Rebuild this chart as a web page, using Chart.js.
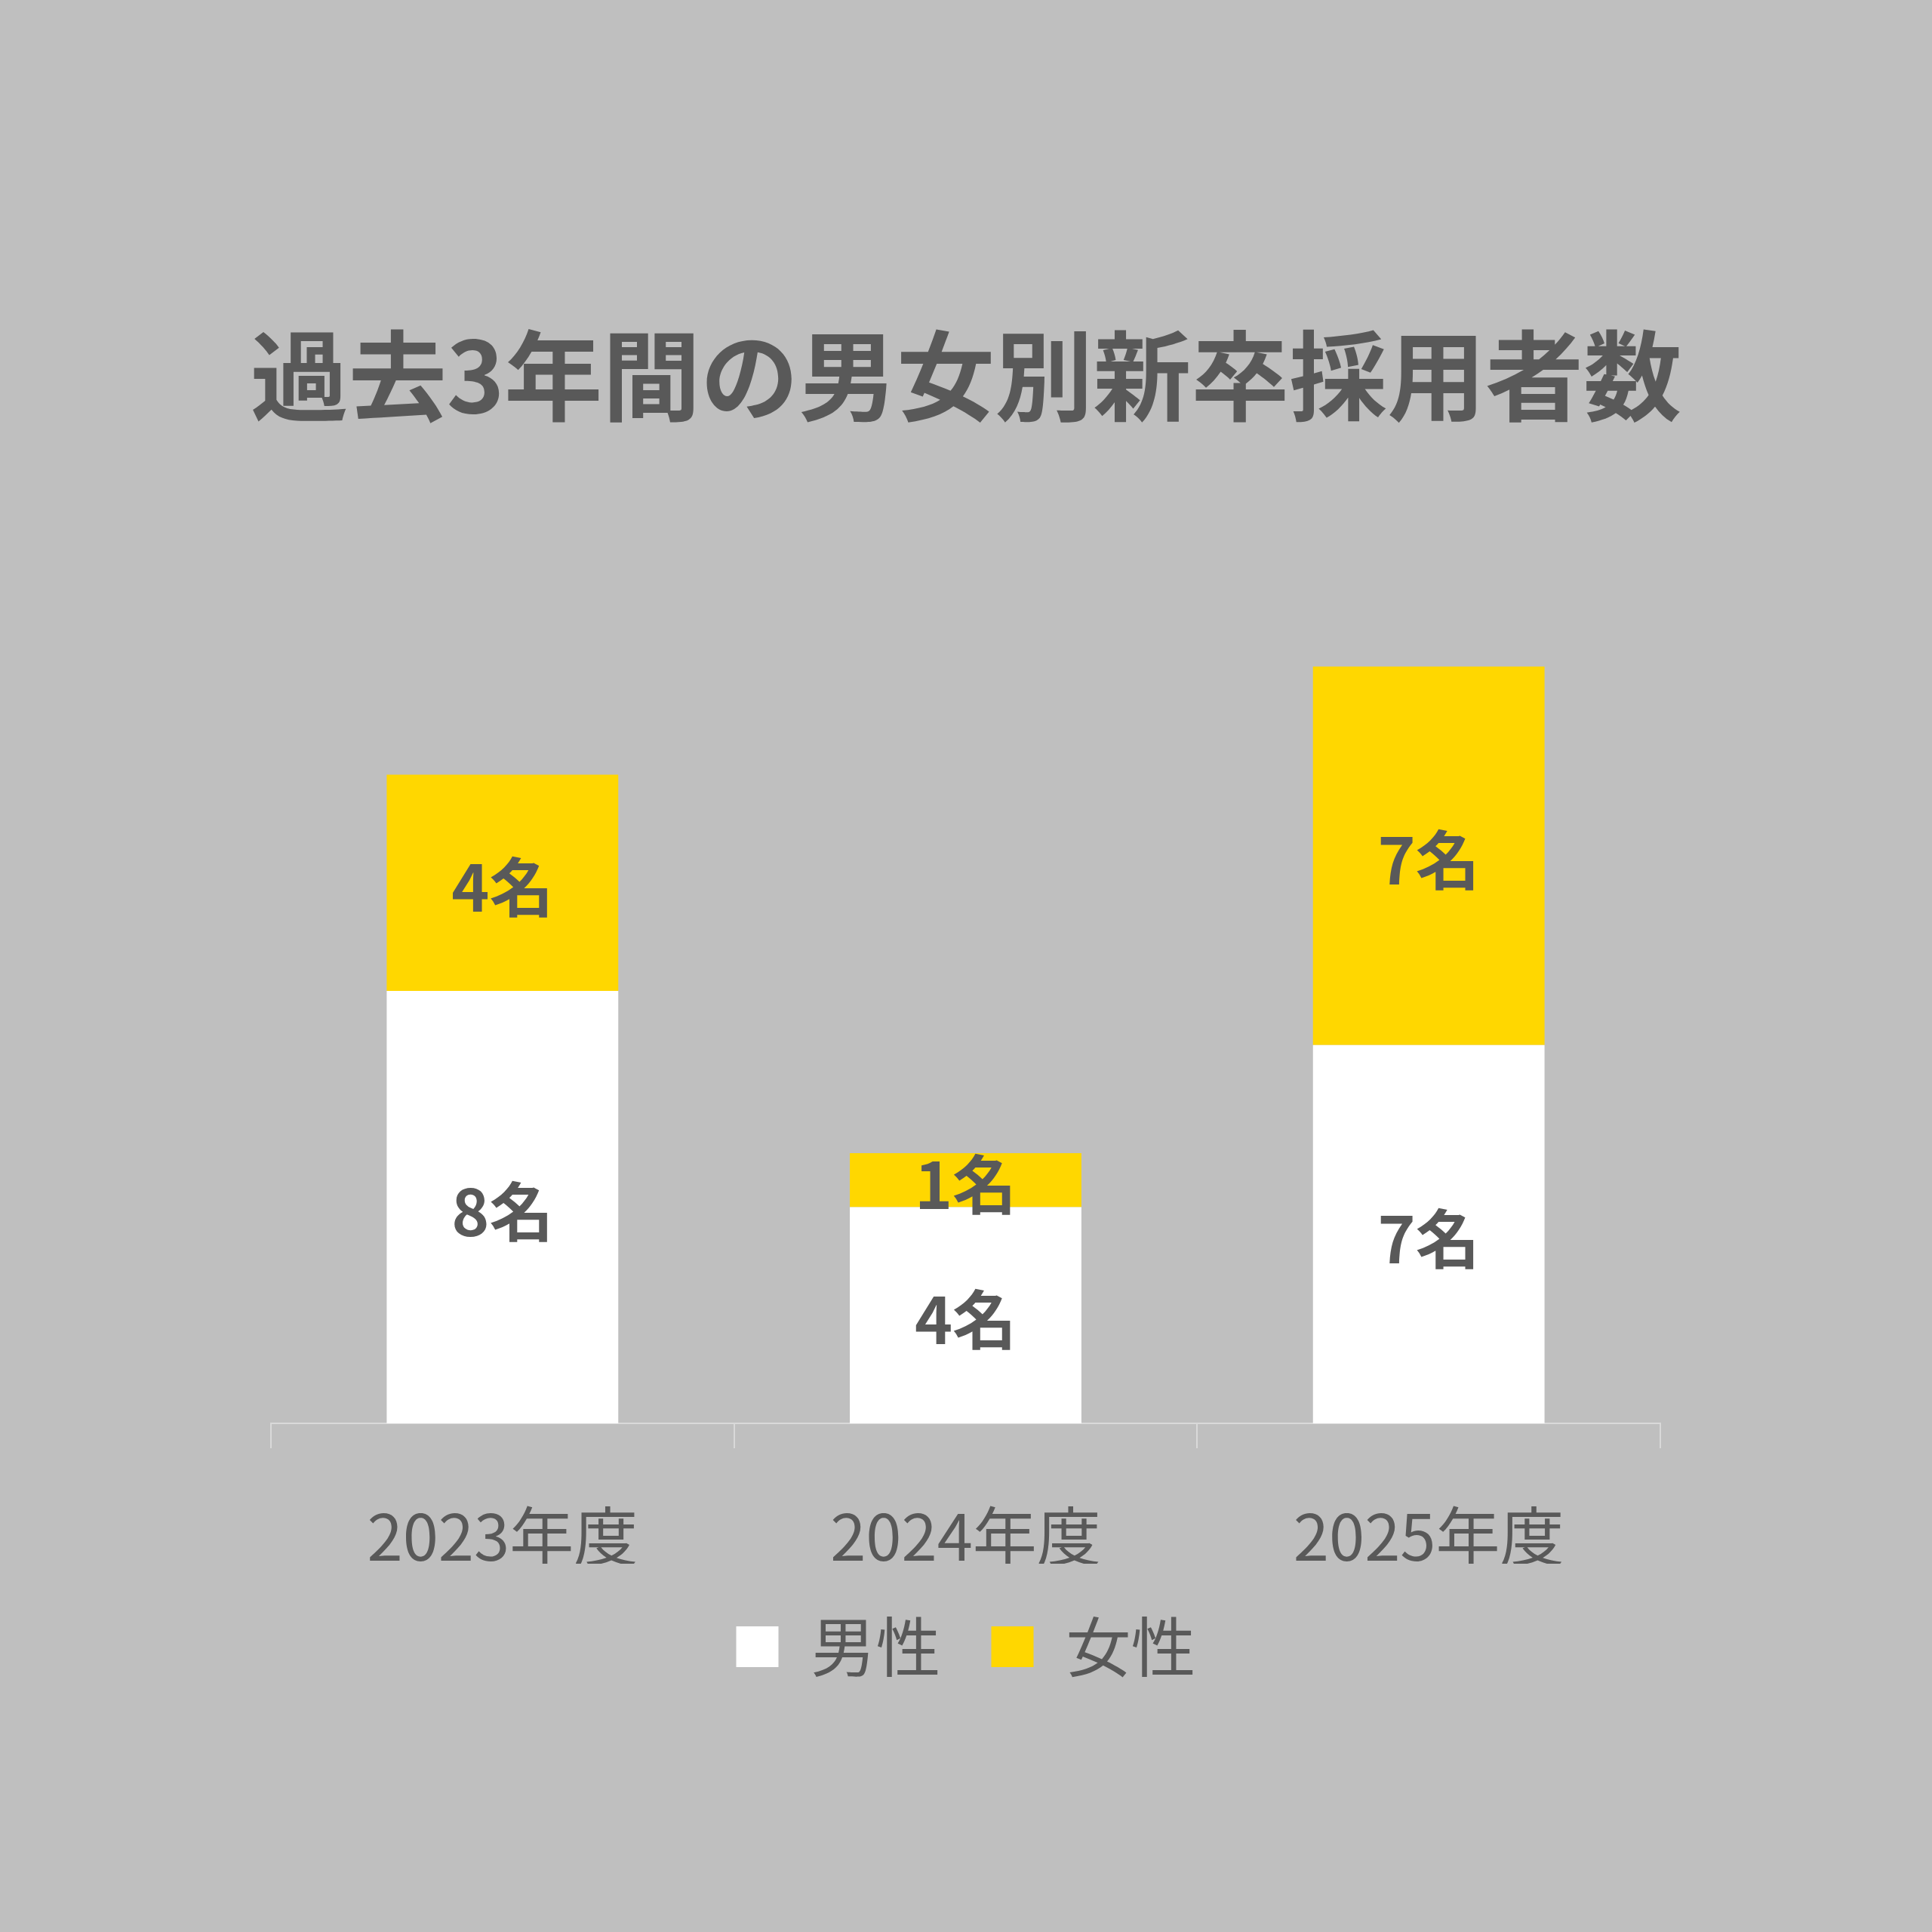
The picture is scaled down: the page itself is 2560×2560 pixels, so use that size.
<!DOCTYPE html>
<html lang="ja">
<head>
<meta charset="utf-8">
<title>過去3年間の男女別新卒採用者数</title>
<script src="https://cdn.jsdelivr.net/npm/chart.js@4.4.1/dist/chart.umd.min.js"></script>
<style>
    html, body { margin: 0; padding: 0; background: #bfbfbf; }
    #chart { display: block; }
</style>
</head>
<body>
<canvas id="chart" width="2560" height="2560"></canvas>
<script>
// Chart data
const titleText = '過去3年間の男女別新卒採用者数';
const years = ['2023年度', '2024年度', '2025年度'];
const maleCounts = [8, 4, 7];
const femaleCounts = [4, 1, 7];
const seriesNames = ['男性', '女性'];

const FONT = "'Noto Sans CJK JP', 'Noto Sans', sans-serif";
const TEXT_COLOR = '#595959';

// Draws "N名" in the middle of every bar segment
const segmentLabels = {
    id: 'segmentLabels',
    afterDatasetsDraw(chart) {
        const ctx = chart.ctx;
        ctx.save();
        ctx.font = `bold 85px ${FONT}`;
        ctx.fillStyle = TEXT_COLOR;
        ctx.textAlign = 'center';
        ctx.textBaseline = 'middle';
        chart.data.datasets.forEach((dataset, i) => {
            const meta = chart.getDatasetMeta(i);
            meta.data.forEach((bar, j) => {
                const value = dataset.data[j];
                if (!value) return;
                const y = (bar.y + bar.base) / 2 + 6;
                ctx.fillText(`${value}名`, bar.x, y);
            });
        });
        ctx.restore();
    }
};

const ctx = document.getElementById('chart').getContext('2d');

new Chart(ctx, {
    type: 'bar',
    data: {
        labels: years,
        datasets: [
            {
                label: seriesNames[0],
                data: maleCounts,
                backgroundColor: '#ffffff',
                borderWidth: 0
            },
            {
                label: seriesNames[1],
                data: femaleCounts,
                backgroundColor: '#ffd700',
                borderWidth: 0
            }
        ]
    },
    options: {
        responsive: false,
        devicePixelRatio: 1,
        animation: false,
        categoryPercentage: 1.0,
        barPercentage: 0.5,
        layout: {
            padding: { top: 0, left: 0, right: 0, bottom: 325 }
        },
        scales: {
            x: {
                stacked: true,
                grid: {
                    display: true,
                    drawOnChartArea: false,
                    drawTicks: true,
                    tickLength: 33,
                    color: '#d9d9d9',
                    lineWidth: 2
                },
                border: { display: true, color: '#d9d9d9', width: 2 },
                ticks: {
                    color: TEXT_COLOR,
                    padding: 66,
                    font: { family: FONT, size: 85 }
                },
                // keep the legend close under the year labels
                afterFit(scale) {
                    scale.height = 186;
                }
            },
            y: {
                stacked: true,
                min: 0,
                max: 16,
                grid: { display: false },
                border: { display: false },
                ticks: { display: false },
                afterFit(scale) {
                    scale.width = 359;
                }
            },
            // empty axis, only reserves the right margin
            yRight: {
                type: 'linear',
                position: 'right',
                grid: { display: false },
                border: { display: false },
                ticks: { display: false },
                afterFit(scale) {
                    scale.width = 360;
                }
            }
        },
        plugins: {
            title: {
                display: true,
                text: titleText,
                color: TEXT_COLOR,
                font: { family: FONT, size: 130, weight: 'bold' },
                padding: { top: 420, bottom: 164 }
            },
            legend: {
                position: 'bottom',
                labels: {
                    color: TEXT_COLOR,
                    boxWidth: 56,
                    boxHeight: 54,
                    padding: 67,
                    font: { family: FONT, size: 86 }
                }
            },
            tooltip: { enabled: false }
        }
    },
    plugins: [segmentLabels]
});
</script>
</body>
</html>
